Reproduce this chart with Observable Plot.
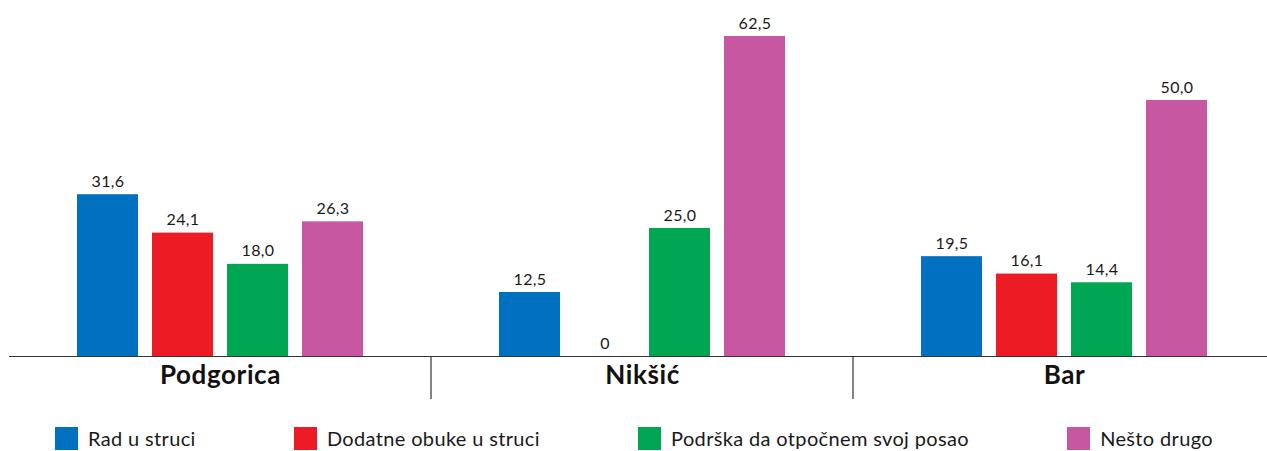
<!DOCTYPE html>
<html>
<head>
<meta charset="utf-8">
<script src="https://cdn.jsdelivr.net/npm/d3@7"></script>
<script src="https://cdn.jsdelivr.net/npm/@observablehq/plot@0.6"></script>
<style>
  html, body { margin: 0; padding: 0; background: #fff; overflow: hidden; }
  body { width: 1267px; height: 451px; font-family: Lato, "Open Sans", sans-serif; color: #1a1a1a; }
  #chart svg { display: block; }
  .legend { display: flex; justify-content: space-between; align-items: center; padding: 0 54px 0 55px; margin-top: 16px; }
  .legend .item { display: flex; align-items: center; font-size: 20px; letter-spacing: 0.35px; }
  .legend .sw { width: 23px; height: 23px; margin-right: 10px; }
</style>
</head>
<body>
<div id="chart"></div>
<div class="legend" id="legend"></div>
<script>
const cities = ["Podgorica", "Nikšić", "Bar"];
const series = ["Rad u struci", "Dodatne obuke u struci", "Podrška da otpočnem svoj posao", "Nešto drugo"];
const colors = ["#0070c0", "#ed1c24", "#00a651", "#c657a0"];
const podgoricaValues = [31.6, 24.1, 18.0, 26.3];
const niksicValues = [12.5, 0, 25.0, 62.5];
const barValues = [19.5, 16.1, 14.4, 50.0];

const valuesByCity = [podgoricaValues, niksicValues, barValues];
const data = [];
cities.forEach((c, i) => series.forEach((s, j) => data.push({city: c, series: s, value: valuesByCity[i][j]})));

const fmt = v => v === 0 ? "0" : v.toFixed(1).replace(".", ",");

const chart = Plot.plot({
  width: 1267,
  height: 410,
  marginTop: 36,
  marginBottom: 54,
  marginLeft: 8,
  marginRight: -8,
  style: {fontFamily: "Lato, 'Open Sans', sans-serif", color: "#1a1a1a", background: "#fff"},
  fx: {domain: cities, padding: 0, label: null},
  x: {domain: series, paddingInner: 0.19, paddingOuter: 0.9, axis: null},
  y: {domain: [0, 62.5], axis: null},
  color: {domain: series, range: colors},
  marks: [
    Plot.barY(data, {fx: "city", x: "series", y: "value", fill: "series"}),
    Plot.text(data, {fx: "city", x: "series", y: "value", text: d => fmt(d.value), dy: -8, lineAnchor: "bottom", fontSize: 16, fill: "#1a1a1a"}),
    Plot.ruleY([0], {stroke: "#333", strokeWidth: 1.2}),
    Plot.axisFx({anchor: "bottom", tickSize: 0, tickPadding: 9, fontSize: 26, fontWeight: "bold", label: null, fill: "#111"})
  ]
});
document.getElementById("chart").appendChild(chart);

// separators between city groups, positioned from the fx scale
const fx = chart.scale("fx");
const y = chart.scale("y");
const y0 = y.apply(0);
const svg = d3.select(chart);
cities.slice(0, -1).forEach(c => {
  const xb = fx.apply(c) + fx.bandwidth;
  svg.append("line")
    .attr("x1", xb).attr("x2", xb)
    .attr("y1", y0).attr("y2", y0 + 43)
    .attr("stroke", "#333").attr("stroke-width", 1.2);
});
svg.selectAll('g[aria-label="fx-axis tick label"] text').style("font-weight", "bold").style("letter-spacing", "0.6px");
svg.selectAll('g[aria-label="text"] text').style("letter-spacing", "0.4px");

const legend = document.getElementById("legend");
series.forEach((s, i) => {
  const item = document.createElement("div");
  item.className = "item";
  const sw = document.createElement("span");
  sw.className = "sw";
  sw.style.background = colors[i];
  const t = document.createElement("span");
  t.textContent = s;
  item.appendChild(sw);
  item.appendChild(t);
  legend.appendChild(item);
});
</script>
</body>
</html>
